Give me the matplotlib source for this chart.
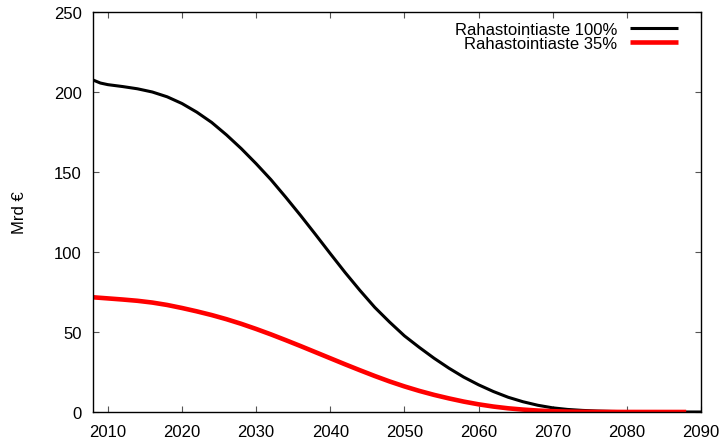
import matplotlib
matplotlib.use("Agg")
import matplotlib.pyplot as plt

plt.rcParams['font.family'] = ['Liberation Sans', 'DejaVu Sans']

years_full = [2008, 2009, 2010, 2012, 2014, 2016, 2018, 2020, 2022, 2024, 2026,
              2028, 2030, 2032, 2034, 2036, 2038, 2040, 2042, 2044, 2046, 2048,
              2050, 2052, 2054, 2056, 2058, 2060, 2062, 2064, 2066, 2068, 2070,
              2072, 2074, 2076, 2078, 2080, 2082, 2085, 2090]
funding_100 = [207.5, 205.6, 204.6, 203.4, 202.0, 200.0, 197.0, 192.8, 187.4,
               181.0, 173.2, 164.6, 155.2, 145.2, 134.2, 122.8, 111.0, 99.0,
               87.2, 76.0, 65.4, 56.2, 47.6, 40.4, 33.6, 27.4, 21.8, 17.0, 12.8,
               9.2, 6.4, 4.2, 2.6, 1.6, 1.0, 0.6, 0.35, 0.2, 0.1, 0.03, 0.0]

years_part = [2008, 2010, 2012, 2014, 2016, 2018, 2020, 2022, 2024, 2026, 2028,
              2030, 2032, 2034, 2036, 2038, 2040, 2042, 2044, 2046, 2048, 2050,
              2052, 2054, 2056, 2058, 2060, 2062, 2064, 2066, 2068, 2070, 2072,
              2074, 2076, 2080, 2088]
funding_35 = [71.7, 71.0, 70.3, 69.5, 68.4, 66.9, 65.0, 62.9, 60.6, 58.0, 55.1,
              51.9, 48.5, 44.9, 41.2, 37.4, 33.6, 29.8, 26.1, 22.5, 19.1, 16.0,
              13.2, 10.7, 8.5, 6.5, 4.8, 3.4, 2.3, 1.5, 0.9, 0.5, 0.26, 0.15,
              0.08, 0.02, 0.0]

labels = ["Rahastointiaste 100%", "Rahastointiaste 35%"]
x_ticks = [2010, 2020, 2030, 2040, 2050, 2060, 2070, 2080, 2090]
y_ticks = [0, 50, 100, 150, 200, 250]

fig = plt.figure(figsize=(7.23, 4.39), dpi=100)
ax = fig.add_axes([93 / 723, 26 / 439, 608 / 723, 400 / 439])

ax.plot(years_full, funding_100, color="black", lw=2.2, label=labels[0],
        solid_joinstyle="round", solid_capstyle="butt")
ax.plot(years_part, funding_35, color="#ff0000", lw=3.3, label=labels[1],
        solid_joinstyle="round", solid_capstyle="butt")

ax.set_xlim(2008, 2090)
ax.set_ylim(0, 250)
ax.set_xticks(x_ticks)
ax.set_yticks(y_ticks)
ax.tick_params(direction="in", length=4.5, width=0.8, color="#555555",
               top=True, right=True, labelsize=12, pad=8)
ax.tick_params(axis="x", pad=9)
for s in ax.spines.values():
    s.set_linewidth(1.0)
    s.set_color("black")

ax.set_ylabel("Mrd €", fontsize=12)
ax.yaxis.set_label_coords(-66 / 608, 0.5)

ax.legend(loc="upper right", frameon=False, markerfirst=False, fontsize=12,
          handlelength=2.9, handletextpad=0.75, labelspacing=-0.05,
          borderaxespad=0.2, bbox_to_anchor=(0.979, 1.0))

fig.savefig("out.png", dpi=100)
